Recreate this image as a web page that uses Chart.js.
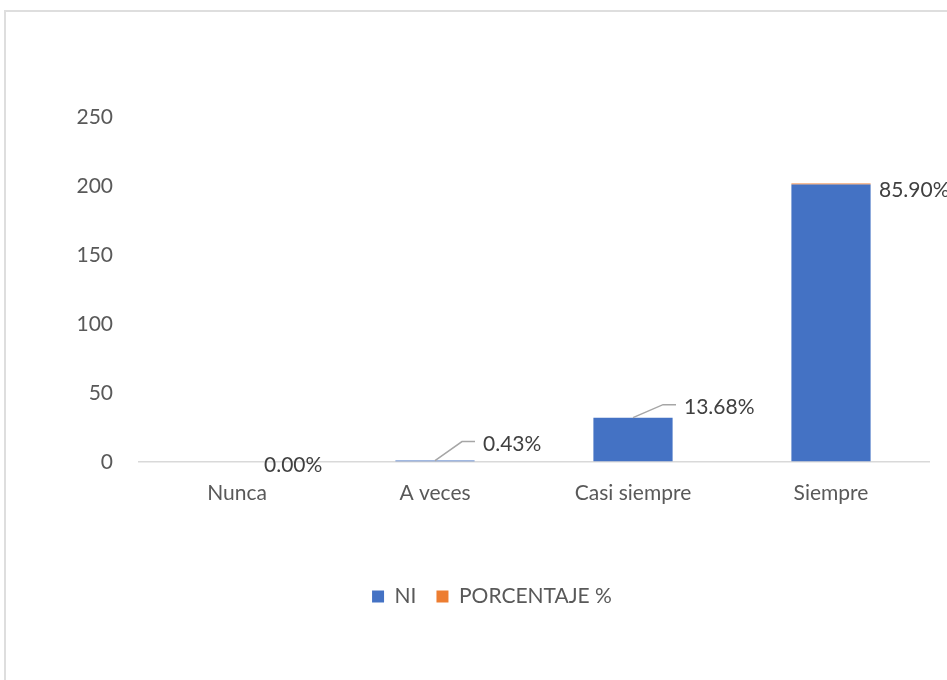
<!DOCTYPE html>
<html>
<head>
<meta charset="utf-8">
<script src="https://cdn.jsdelivr.net/npm/chart.js@4.4.0/dist/chart.umd.min.js"></script>
<style>
  body { margin: 0; background: #fff; overflow: hidden; }
  #frame { position: absolute; left: 4px; top: 10px; width: 1000px; height: 1000px; border: 2px solid #dedede; }
  #wrap { position: absolute; left: 0; top: 0; width: 947px; height: 680px; }
</style>
</head>
<body>
<div id="frame"></div>
<div id="wrap"><canvas id="chart" width="947" height="680"></canvas></div>
<script>
// data
var categories = ['Nunca', 'A veces', 'Casi siempre', 'Siempre'];
var niValues = [0, 1, 32, 201];
var pctValues = [0.0000, 0.0043, 0.1368, 0.8590];
var yTicks = [0, 50, 100, 150, 200, 250];

// label placement (Excel put them in different spots)
var labelPos = [
	{ dx: 27, dy: 3, leader: false },
	{ dx: 48, dy: -16, leader: true },
	{ dx: 51, dy: -10, leader: true },
	{ dx: 48, dy: 7, leader: false }
];

var FONT = 'Lato';
var FSIZE = 21;

var pctLabelPlugin = {
	id: 'pctLabels',
	afterDatasetsDraw: function(chart) {
		var ctx = chart.ctx;
		var meta = chart.getDatasetMeta(1);
		ctx.save();
		ctx.font = FSIZE + 'px ' + FONT;
		ctx.textBaseline = 'middle';
		ctx.textAlign = 'left';
		meta.data.forEach(function(bar, i) {
			var p = labelPos[i];
			var tx = bar.x + p.dx, ty = bar.y + p.dy;
			if (p.leader) {
				ctx.strokeStyle = '#a6a6a6';
				ctx.lineWidth = 1.5;
				ctx.beginPath();
				ctx.moveTo(bar.x, bar.y);
				ctx.lineTo(tx - 21, ty - 3);
				ctx.lineTo(tx - 8, ty - 3);
				ctx.stroke();
			}
			ctx.fillStyle = '#404040';
			ctx.fillText((pctValues[i] * 100).toFixed(2) + '%', tx, ty);
		});
		ctx.restore();
	}
};

Chart.defaults.font.family = FONT;
Chart.defaults.font.size = FSIZE;
Chart.defaults.color = '#595959';

new Chart(document.getElementById('chart'), {
	type: 'bar',
	data: {
		labels: categories,
		datasets: [
			{ label: 'NI', data: niValues, backgroundColor: '#4472C4', barPercentage: 0.4, categoryPercentage: 1.0 },
			{ label: 'PORCENTAJE %', data: pctValues, backgroundColor: '#ED7D31', barPercentage: 0.4, categoryPercentage: 1.0 }
		]
	},
	options: {
		responsive: false,
		animation: false,
		layout: { padding: { top: 117, left: 54, right: 17, bottom: 63 } },
		scales: {
			x: {
				stacked: true,
				grid: { display: false },
				border: { display: false },
				ticks: { padding: 11 },
				afterFit: function(scale) { scale.height = 104; }
			},
			y: {
				stacked: true,
				min: 0,
				max: 250,
				afterBuildTicks: function(scale) { scale.ticks = yTicks.map(function(v) { return { value: v }; }); },
				grid: {
					drawTicks: false,
					color: function(c) { return c.tick && c.tick.value === 0 ? '#d9d9d9' : 'rgba(0,0,0,0)'; },
					lineWidth: 1.5
				},
				border: { display: false },
				ticks: { padding: 25 },
				afterFit: function(scale) { scale.width = 84; }
			}
		},
		plugins: {
			legend: {
				position: 'bottom',
				labels: { boxWidth: 12, boxHeight: 12, padding: 20 }
			},
			tooltip: { enabled: false }
		}
	},
	plugins: [pctLabelPlugin]
});
</script>
</body>
</html>
